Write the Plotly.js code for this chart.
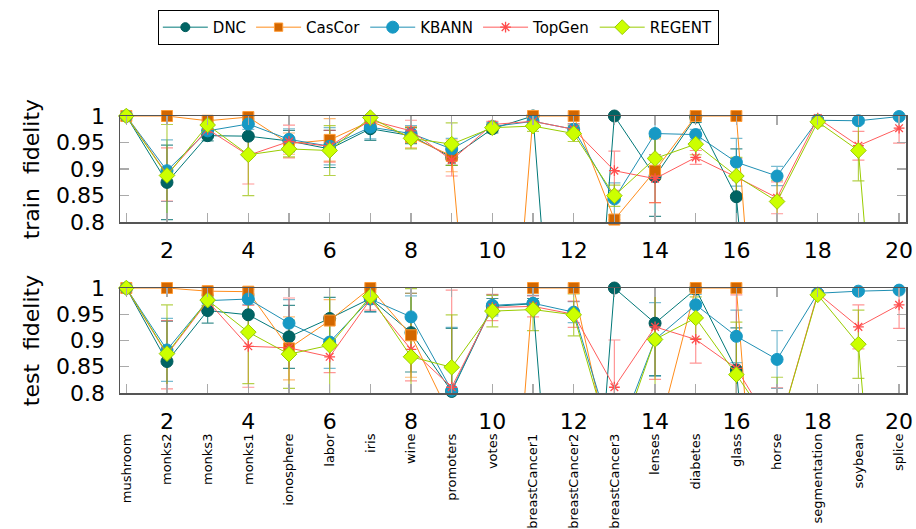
<!DOCTYPE html>
<html>
<head>
<meta charset="utf-8">
<script src="https://cdn.plot.ly/plotly-3.0.1.min.js"></script>
<style>html,body{margin:0;padding:0;background:#fff;}#chart{width:916px;height:529px;}</style>
</head>
<body>
<div id="chart"></div>
<script>
const xIdx = [1,2,3,4,5,6,7,8,9,10,11,12,13,14,15,16,17,18,19,20];
const xTickLabels = ['', '2', '', '4', '', '6', '', '8', '', '10', '', '12', '', '14', '', '16', '', '18', '', '20'];
const categories = ['mushroom','monks2','monks3','monks1','ionosphere','labor','iris','wine','promoters','votes','breastCancer1','breastCancer2','breastCancer3','lenses','diabetes','glass','horse','segmentation','soybean','splice'];
const yTickVals = [0.8, 0.85, 0.9, 0.95, 1];
const yTickLabels = ['0.8', '0.85', '0.9', '0.95', '1'];
const seriesNames = ['DNC', 'CasCor', 'KBANN', 'TopGen', 'REGENT'];

// train fidelity
const trainDNC    = [1, 0.875, 0.963, 0.962, 0.953, 0.938, 0.976, 0.963, 0.922, 0.976, 1.0, 0.0, 1.0, 0.886, 0.998, 0.848, 0, 0, 0, 0];
const trainCasCor = [1, 1, 0.991, 0.998, 0.948, 0.955, 0.99, 0.96, 0.925, 0.05, 1.0, 1.0, 0.805, 0.897, 1.0, 1.0, 0, 0, 0, 0];
const trainKBANN  = [1, 0.897, 0.972, 0.985, 0.956, 0.943, 0.979, 0.967, 0.938, 0.98, 0.99, 0.975, 0.844, 0.967, 0.965, 0.913, 0.887, 0.992, 0.991, 0.999];
const trainTopGen = [1, 0.89, 0.975, 0.926, 0.952, 0.943, 0.992, 0.972, 0.917, 0.984, 0.99, 0.975, 0.897, 0.882, 0.922, 0.885, 0.846, 0.996, 0.944, 0.977];
const trainREGENT = [1, 0.888, 0.983, 0.927, 0.938, 0.935, 0.997, 0.958, 0.947, 0.978, 0.981, 0.967, 0.85, 0.92, 0.947, 0.887, 0.839, 0.989, 0.935, 0];

const trainErrDNC    = [0, 0.07, 0.01, 0.037, 0.02, 0.035, 0.022, 0.015, 0.015, 0.008, 0.005, 0, 0, 0.075, 0.01, 0.09, 0, 0, 0, 0];
const trainErrCasCor = [0, 0, 0.01, 0.005, 0.02, 0.04, 0.01, 0.02, 0.03, 0, 0, 0, 0, 0.06, 0, 0, 0, 0, 0, 0];
const trainErrKBANN  = [0, 0.058, 0.01, 0.01, 0.02, 0.035, 0.022, 0.015, 0.02, 0.008, 0.01, 0.01, 0.03, 0.04, 0.01, 0.045, 0.018, 0.005, 0.005, 0.002];
const trainErrTopGen = [0, 0.05, 0.01, 0.054, 0.031, 0.03, 0.01, 0.02, 0.03, 0.006, 0.01, 0.01, 0.037, 0.045, 0.013, 0.035, 0.03, 0.005, 0.027, 0.028];
const trainErrREGENT = [0, 0.096, 0.01, 0.077, 0.015, 0.047, 0.005, 0.02, 0.04, 0.008, 0.01, 0.015, 0.02, 0.04, 0.02, 0.035, 0.04, 0.008, 0.057, 0];

// test fidelity
const testDNC    = [1, 0.86, 0.957, 0.949, 0.907, 0.942, 0.98, 0.915, 0.803, 0.965, 0.97, 0.0, 1.0, 0.933, 0.998, 0.844, 0, 0, 0, 0];
const testCasCor = [1, 1, 0.994, 0.993, 0.885, 0.938, 1.0, 0.91, 0.75, 0.0, 1.0, 1.0, 0.65, 0.7, 1.0, 1.0, 0, 0, 0, 0];
const testKBANN  = [1, 0.882, 0.976, 0.979, 0.933, 0.897, 0.979, 0.945, 0.805, 0.967, 0.971, 0.954, 0.7, 0.902, 0.968, 0.908, 0.864, 0.99, 0.994, 0.996];
const testTopGen = [1, 0.873, 0.975, 0.889, 0.886, 0.869, 0.978, 0.883, 0.811, 0.963, 0.965, 0.95, 0.811, 0.926, 0.902, 0.847, 0.72, 0.99, 0.926, 0.968];
const testREGENT = [1, 0.875, 0.977, 0.916, 0.874, 0.891, 0.984, 0.869, 0.849, 0.956, 0.959, 0.949, 0.68, 0.902, 0.943, 0.835, 0.72, 0.987, 0.893, 0];

const testErrDNC    = [0, 0.077, 0.024, 0.037, 0.06, 0.04, 0.025, 0.075, 0.12, 0.015, 0.01, 0, 0, 0.1, 0.005, 0.08, 0, 0, 0, 0];
const testErrCasCor = [0, 0, 0.005, 0.005, 0.06, 0.04, 0, 0.08, 0, 0, 0, 0, 0, 0, 0, 0, 0, 0, 0, 0];
const testErrKBANN  = [0, 0.06, 0.01, 0.01, 0.045, 0.05, 0.025, 0.04, 0.12, 0.02, 0.015, 0.02, 0, 0.07, 0.02, 0.05, 0.055, 0.005, 0.003, 0.002];
const testErrTopGen = [0, 0.065, 0.01, 0.078, 0.095, 0.03, 0.02, 0.06, 0.185, 0.025, 0.02, 0.025, 0.09, 0.1, 0.045, 0.14, 0.09, 0.005, 0.042, 0.045];
const testErrREGENT = [0, 0.093, 0.01, 0.098, 0.065, 0.11, 0.015, 0.13, 0.1, 0.03, 0.04, 0.04, 0, 0.12, 0.04, 0.1, 0.11, 0.005, 0.065, 0];

const styles = {
  DNC:    {line: '#007878', fill: '#006464', edge: '#005c5c', symbol: 'circle', size: 12, err: 'rgba(0,110,110,0.75)'},
  CasCor: {line: '#ff8c1a', fill: '#d26600', edge: '#ff9a33', symbol: 'square', size: 11, err: 'rgba(255,140,26,0.6)'},
  KBANN:  {line: '#1f8fb3', fill: '#1799c4', edge: '#1799c4', symbol: 'circle', size: 12, err: 'rgba(31,143,179,0.6)'},
  TopGen: {line: '#ff5c5c', fill: '#ff4d4d', edge: '#ff4d4d', symbol: 'asterisk-open', size: 9, err: 'rgba(255,80,80,0.6)'},
  REGENT: {line: '#99cc00', fill: '#ccff00', edge: '#99cc00', symbol: 'diamond', size: 12, err: 'rgba(150,190,0,0.7)'}
};

const trainVals = {DNC: trainDNC, CasCor: trainCasCor, KBANN: trainKBANN, TopGen: trainTopGen, REGENT: trainREGENT};
const trainErrs = {DNC: trainErrDNC, CasCor: trainErrCasCor, KBANN: trainErrKBANN, TopGen: trainErrTopGen, REGENT: trainErrREGENT};
const testVals  = {DNC: testDNC, CasCor: testCasCor, KBANN: testKBANN, TopGen: testTopGen, REGENT: testREGENT};
const testErrs  = {DNC: testErrDNC, CasCor: testErrCasCor, KBANN: testErrKBANN, TopGen: testErrTopGen, REGENT: testErrREGENT};

const YMIN = 0.8, YMAX = 1.0;
const traces = [];

function addPanel(vals, errs, xa, ya, showLegend) {
  seriesNames.forEach(name => {
    const s = styles[name];
    traces.push({
      type: 'scatter', mode: 'none', x: xIdx, y: vals[name], xaxis: xa, yaxis: ya,
      showlegend: false, hoverinfo: 'skip', cliponaxis: true,
      error_y: {type: 'data', array: errs[name], visible: true, color: s.err, thickness: 1.2, width: 6}
    });
  });
  seriesNames.forEach(name => {
    const s = styles[name];
    const v = vals[name];
    const sizes = v.map(d => (d >= YMIN - 0.005 && d <= YMAX + 0.005) ? s.size : 0);
    const isOpen = s.symbol.indexOf('open') >= 0;
    traces.push({
      type: 'scatter', mode: 'lines+markers', name: name, x: xIdx, y: v, xaxis: xa, yaxis: ya,
      showlegend: showLegend, legendgroup: name, cliponaxis: false,
      line: {color: s.line, width: 1},
      marker: {symbol: s.symbol, size: sizes, color: s.fill, opacity: 1,
               line: {color: s.edge, width: isOpen ? 1.3 : 1}}
    });
  });
}
addPanel(trainVals, trainErrs, 'x', 'y', true);
addPanel(testVals, testErrs, 'x2', 'y2', false);

// carrier for the category label axis
traces.push({type: 'scatter', mode: 'markers', x: xIdx, y: testKBANN, xaxis: 'x3', yaxis: 'y2',
             showlegend: false, hoverinfo: 'skip', marker: {opacity: 0, size: 1}});

const FONT = 'DejaVu Sans, Liberation Sans, sans-serif';
const xRange = [0.845, 20.17];
function xAxis(anchor) {
  return {
    anchor: anchor, domain: [0, 1], range: xRange, tickmode: 'array', tickvals: xIdx, ticktext: xTickLabels,
    ticks: 'inside', ticklen: 9, tickcolor: '#aaaaaa', tickwidth: 1.3, mirror: 'ticks',
    showline: true, linecolor: '#555555', linewidth: 1.5, showgrid: false, zeroline: false,
    tickfont: {family: FONT, size: 22, color: '#000'}, ticklabelstandoff: 8
  };
}
function yAxis(anchor, domain, title) {
  return {
    anchor: anchor, domain: domain, range: [YMIN, YMAX], tickmode: 'array', tickvals: yTickVals, ticktext: yTickLabels,
    ticks: 'inside', ticklen: 9, tickcolor: '#aaaaaa', tickwidth: 1.3, mirror: 'ticks',
    showline: true, linecolor: '#555555', linewidth: 1.5, showgrid: false, zeroline: false,
    tickfont: {family: FONT, size: 22, color: '#000'}, ticklabelstandoff: 9,
    title: {text: title, font: {family: FONT, size: 22, color: '#000'}, standoff: 10}
  };
}

const layout = {
  width: 916, height: 529,
  margin: {l: 120, r: 10, t: 114, b: 136},
  paper_bgcolor: '#fff', plot_bgcolor: '#fff',
  showlegend: true,
  legend: {orientation: 'h', x: 0.405, xanchor: 'center', y: 1.383, yanchor: 'top',
           bordercolor: '#000', borderwidth: 1, font: {family: FONT, size: 15, color: '#000'},
           itemwidth: 45, bgcolor: '#fff'},
  xaxis: xAxis('y'),
  yaxis: yAxis('x', [0.6165, 1], 'train  fidelity'),
  xaxis2: xAxis('y2'),
  yaxis2: yAxis('x2', [0, 0.379], 'test  fidelity'),
  xaxis3: {overlaying: 'x2', anchor: 'y2', side: 'bottom', range: xRange, tickmode: 'array',
           tickvals: xIdx, ticktext: categories, tickangle: -90, ticks: '', showline: false,
           showgrid: false, zeroline: false, ticklabelstandoff: 37,
           tickfont: {family: FONT, size: 13, color: '#000'}}
};

Plotly.newPlot('chart', traces, layout, {displayModeBar: false, staticPlot: true});
</script>
</body>
</html>
